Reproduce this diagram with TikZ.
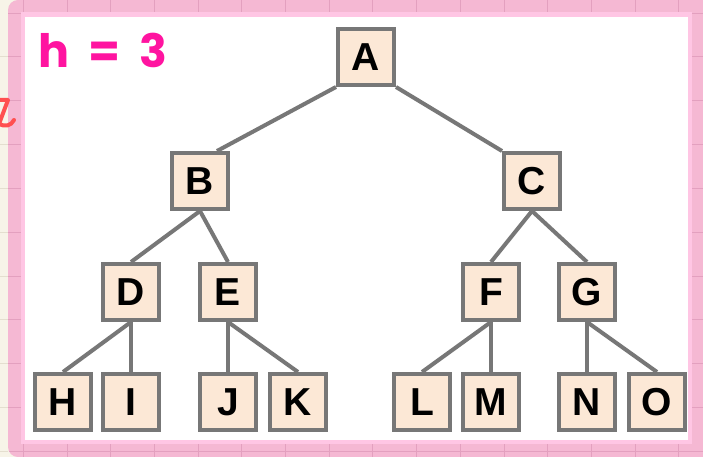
\documentclass[tikz,border=0pt]{standalone}
\usepackage{fontspec}
\setmainfont{Liberation Sans}
\newfontfamily\handfont{Poppins}
\usetikzlibrary{backgrounds}
\def\widespace{\spaceskip=19pt\relax}

\definecolor{paper}{HTML}{F7F4E8}
\definecolor{paperline}{HTML}{E4DFCF}
\definecolor{framepink}{HTML}{F5B8D3}
\definecolor{framegrid}{HTML}{E3A0BF}
\definecolor{rimpink}{HTML}{FFC6E4}
\definecolor{boxfill}{HTML}{FCE8D6}
\definecolor{boxline}{HTML}{777777}
\definecolor{hpink}{HTML}{FF14A0}
\definecolor{scribble}{HTML}{FF5050}

\tikzset{
	treenode/.style={draw=boxline, fill=boxfill, line width=4pt,
		minimum width=56pt, minimum height=56pt, inner sep=0pt,
		font=\fontsize{39}{39}\selectfont\bfseries},
	treeedge/.style={draw=boxline, line width=4pt},
}

\begin{document}
\begin{tikzpicture}[x=1pt, y=-1pt]
			\useasboundingbox (0,0) rectangle (703,457);
			
			%%%%% PAPER + FRAME %%%%%
			\begin{scope}[on background layer]
				\fill[paper] (0,0) rectangle (703,457);
				\foreach \y in {57,100.8,...,457}
					\draw[paperline, line width=1pt] (0,\y) -- (8,\y);
				
				\fill[framepink, rounded corners=10pt] (8,0) rectangle (712,457);
				\begin{scope}
					\clip[rounded corners=10pt] (8,0) rectangle (712,457);
					\foreach \x in {23.3,67,...,703}
						\draw[framegrid, line width=1pt] (\x,0) -- (\x,457);
					\foreach \y in {13.2,57,...,457}
						\draw[framegrid, line width=1pt] (8,\y) -- (703,\y);
				\end{scope}
				
				\fill[rimpink] (21,12) rectangle (692,444);
				\fill[white] (25,17) rectangle (688,440);
				
				\draw[scribble, line width=4pt, line cap=round, line join=round]
					(-3,100) -- (8,100) -- (-1,124) .. controls (5,127) and (11,126) .. (14,120);
			\end{scope}
			
			\node[text=hpink, anchor=base west, inner sep=0pt,
				font=\handfont\bfseries\fontsize{46}{46}\selectfont\widespace] (height) at (38,68) {h = 3};
			
			%%%%% TREE %%%%%
			\node[treenode] (A) at (366,57) {A};
			
			\node[treenode] (B) at (200,181) {B};
			\node[treenode] (C) at (532,181) {C};
			
			\node[treenode] (D) at (131,292) {D};
			\node[treenode] (E) at (228,292) {E};
			\node[treenode] (F) at (491,292) {F};
			\node[treenode] (G) at (587,292) {G};
			
			\node[treenode] (H) at (63,402) {H};
			\node[treenode] (I) at (131,402) {I};
			\node[treenode] (J) at (228,402) {J};
			\node[treenode] (K) at (298,402) {K};
			\node[treenode] (L) at (422,402) {L};
			\node[treenode] (M) at (491,402) {M};
			\node[treenode] (N) at (587,402) {N};
			\node[treenode] (O) at (657,402) {O};
			
			\begin{scope}[on background layer]
				\draw[treeedge] (A.south west) -- ([xshift=17pt]B.north);
				\draw[treeedge] (A.south east) -- (C.north west);
				\foreach \p/\c in {B/D,B/E,C/F,C/G,D/H,D/I,E/J,E/K,F/L,F/M,G/N,G/O}
					\draw[treeedge] (\p.south) -- (\c.north);
			\end{scope}
\end{tikzpicture}
\end{document}
